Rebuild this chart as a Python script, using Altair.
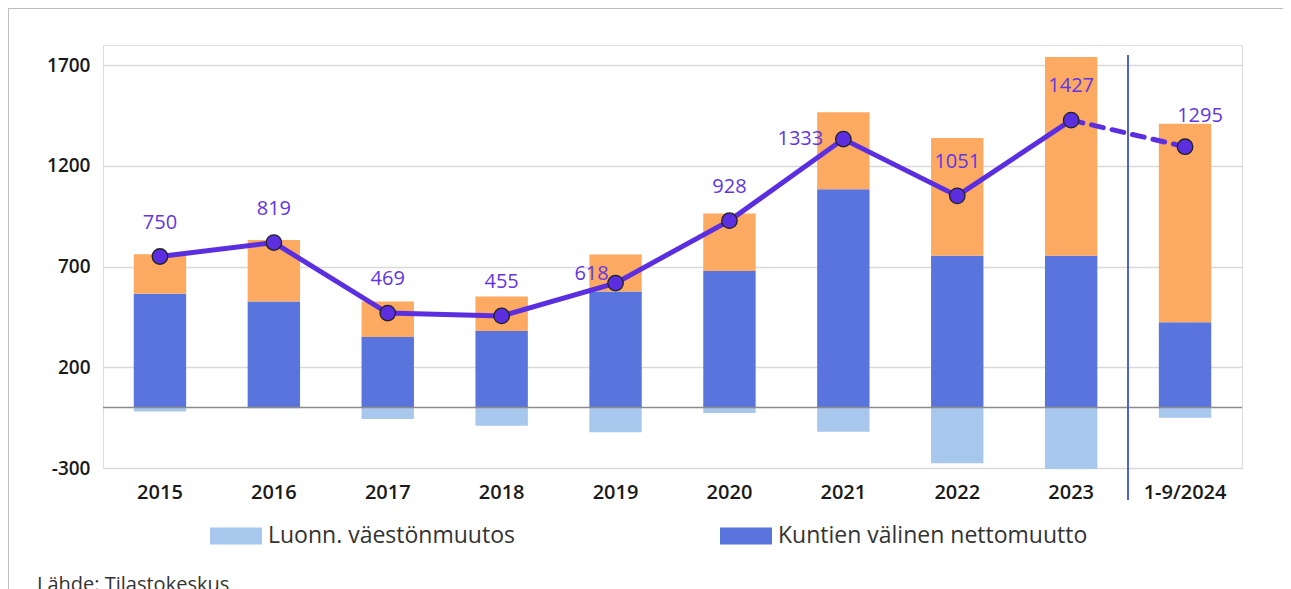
import altair as alt
import pandas as pd

# ---- data ----
years = ["2015", "2016", "2017", "2018", "2019", "2020", "2021", "2022", "2023", "1-9/2024"]
luonn = [-20, -3, -57, -90, -122, -27, -120, -276, -305, -50]          # Luonn. väestönmuutos
kunta = [565, 526, 350, 380, 576, 678, 1084, 754, 754, 424]            # Kuntien välinen nettomuutto
maahan = [196, 306, 176, 171, 184, 286, 382, 584, 986, 985]            # Nettomaahanmuutto
yhteensa = [750, 819, 469, 455, 618, 928, 1333, 1051, 1427, 1295]     # Väestönmuutos yhteensä

series_names = ["Luonn. väestönmuutos", "Kuntien välinen nettomuutto", "Nettomaahanmuutto"]
series_colors = ["#A7C7EC", "#5A74DD", "#FCA962"]
y_ticks = [-300, 200, 700, 1200, 1700]
line_color = "#5B2FE0"
label_color = "#6236E4"
source_text = "Lähde: Tilastokeskus"

rows = []
for i, yr in enumerate(years):
    for k, (name, vals) in enumerate(zip(series_names, [luonn, kunta, maahan])):
        rows.append({"year": yr, "series": name, "value": vals[i], "ord": k})
bars_df = pd.DataFrame(rows)
line_df = pd.DataFrame({"year": years, "total": yhteensa})

x_enc = alt.X("year:N", sort=years, title=None,
              scale=alt.Scale(paddingInner=0.54, paddingOuter=0.27),
              axis=alt.Axis(labelAngle=0, labelFont="Open Sans", labelFontSize=20,
                            labelFontWeight=600, labelColor="#1a1a1a", labelPadding=14,
                            ticks=False, domain=False, grid=False))
y_scale = alt.Scale(domain=[-300, 1800], nice=False, zero=False)

bars = alt.Chart(bars_df).mark_bar(strokeWidth=0).encode(
    x=x_enc,
    y=alt.Y("value:Q", scale=y_scale, title=None,
            axis=alt.Axis(values=y_ticks, labelExpr="'' + datum.value",
                          labelFont="Open Sans", labelFontSize=19,
                          labelFontWeight=600, labelColor="#1a1a1a", labelPadding=13,
                          ticks=False, domain=False, grid=True, gridColor="#d9d9d9",
                          gridWidth=1.5)),
    color=alt.Color("series:N", scale=alt.Scale(domain=series_names, range=series_colors),
                    legend=alt.Legend(values=series_names[:2], title=None, orient="none",
                                      legendX=107, legendY=465, direction="horizontal",
                                      symbolType="M-1,-0.33H1V0.33H-1Z", symbolSize=2704,
                                      symbolStrokeWidth=0, symbolOpacity=1,
                                      labelFont="Open Sans", labelFontSize=23,
                                      labelColor="#333333", labelOffset=6,
                                      columnPadding=205, labelLimit=500, padding=0)),
    order=alt.Order("ord:Q"),
)

zero_rule = alt.Chart(pd.DataFrame({"z": [0]})).mark_rule(color="#8c8c8c", strokeWidth=1.5).encode(
    y=alt.Y("z:Q", scale=y_scale)
)

solid_line = alt.Chart(line_df).transform_filter(
    alt.datum.year != years[-1]
).mark_line(color=line_color, strokeWidth=5).encode(
    x=alt.X("year:N", sort=years), y=alt.Y("total:Q", scale=y_scale)
)
dash_line = alt.Chart(line_df).transform_filter(
    alt.FieldOneOfPredicate(field="year", oneOf=years[-2:])
).mark_line(color=line_color, strokeWidth=5, strokeDash=[12, 9], strokeCap="round").encode(
    x=alt.X("year:N", sort=years), y=alt.Y("total:Q", scale=y_scale)
)
points = alt.Chart(line_df).mark_point(filled=True, shape="circle", size=240, fill=line_color,
                                       stroke="#222222", strokeWidth=1.3, opacity=1).encode(
    x=alt.X("year:N", sort=years), y=alt.Y("total:Q", scale=y_scale)
)

def labels(sel, dx, dy):
    return alt.Chart(line_df).transform_filter(
        alt.FieldOneOfPredicate(field="year", oneOf=sel)
    ).mark_text(font="Open Sans", fontSize=20, color=label_color, dx=dx, dy=dy,
                baseline="middle").encode(
        x=alt.X("year:N", sort=years), y=alt.Y("total:Q", scale=y_scale),
        text=alt.Text("total:Q")
    )

lab_main = labels(["2015", "2016", "2017", "2018", "2020", "2022", "2023"], 0, -34)
lab_618 = labels(["2019"], -24, -9)
lab_1333 = labels(["2021"], -43, 0)
lab_1295 = labels(["1-9/2024"], 15, -31)

divider = alt.Chart(line_df).mark_rule(color="#4F62D6", strokeWidth=1).encode(
    x=alt.value(1025), y=alt.value(10), y2=alt.value(455)
)
frame_left = alt.Chart(line_df).mark_rule(color="#bfbfbf", strokeWidth=1.5).encode(
    x=alt.value(-95), y=alt.value(-37), y2=alt.value(560)
)
frame_top = alt.Chart(line_df).mark_rule(color="#bfbfbf", strokeWidth=1.5).encode(
    x=alt.value(-95), x2=alt.value(1180), y=alt.value(-37)
)
source = alt.Chart(pd.DataFrame({"t": [source_text]})).mark_text(
    font="Open Sans", fontSize=20, color="#333333", align="left", baseline="alphabetic"
).encode(x=alt.value(-66), y=alt.value(546), text="t:N")

chart = alt.layer(
    bars, zero_rule, solid_line, dash_line, points,
    lab_main, lab_618, lab_1333, lab_1295, divider, frame_left, frame_top, source
).properties(
    width=1139, height=423,
    autosize=alt.AutoSizeParams(type="none"),
    padding={"left": 95, "top": 37, "right": 41, "bottom": 121},
).configure_view(stroke="#d9d9d9", strokeWidth=2).configure(background="white")

chart.save("out.html", embed_options={"renderer": "svg", "actions": False})
